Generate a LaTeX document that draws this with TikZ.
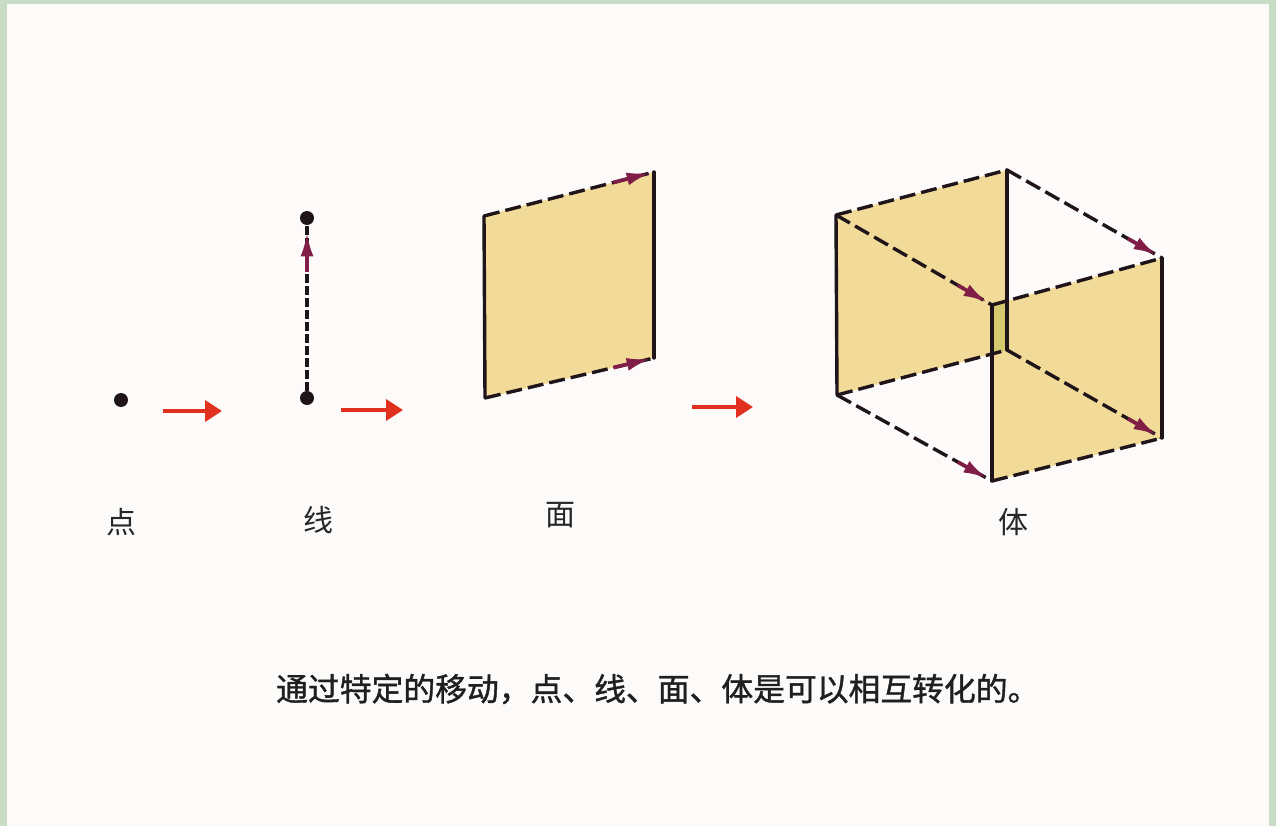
\documentclass[tikz,border=0pt]{standalone}
\usepackage{fontspec}
\newfontfamily\cjk{Noto Sans CJK SC}
\newfontfamily\cjkheavy[FakeBold=1.2]{Noto Sans CJK SC}
\usetikzlibrary{arrows.meta,calc}
\definecolor{pagebg}{RGB}{252,251,250}
\definecolor{frame}{RGB}{200,220,198}
\definecolor{facefill}{RGB}{242,218,152}
\definecolor{overlapfill}{RGB}{214,200,110}
\definecolor{movecol}{RGB}{128,30,72}
\definecolor{stepred}{RGB}{226,48,30}
\definecolor{edgecol}{RGB}{30,20,25}
\tikzset{
  pt/.style={circle,fill=edgecol,inner sep=0pt,minimum size=14pt},
  solidedge/.style={draw=edgecol,line width=3.4pt,line cap=round},
  dashedge/.style={draw=edgecol,line width=3.4pt,dash pattern=on 16pt off 6pt},
  fineedge/.style={draw=edgecol,line width=3.2pt,dash pattern=on 9pt off 3pt},
  movetip/.style={draw=movecol,line width=3.6pt,-{Latex[length=24pt,width=13pt]}},
  steparrow/.style={draw=stepred,line width=3.8pt,-{Triangle[length=17pt,width=21pt]}},
  lbl/.style={font=\cjk\fontsize{30pt}{32pt}\selectfont,text=black!85,inner sep=0pt},
  caption/.style={font=\cjkheavy\fontsize{31.8pt}{34pt}\selectfont,text=black!88,inner sep=0pt}
}
\begin{document}
\begin{tikzpicture}[x=1pt,y=-1pt]
  % page and frame
  \fill[frame] (0,0) rectangle (1276,826);
  \fill[pagebg] (7,4) rectangle (1269,826);
  \useasboundingbox (0,0) rectangle (1276,826);

  % point
  \node[pt] (p) at (121,400) {};
  \node[lbl] (lp) at (121,522) {点};

  % line
  \node[pt] (l1) at (307,398) {};
  \node[pt] (l2) at (307,218) {};
  \draw[fineedge] (l1) -- (l2);
  \draw[movetip] ($(l1)!0.7!(l2)$) -- ($(l1)!0.92!(l2)$);
  \node[lbl] (ll) at (318,520) {线};

  % plane
  \coordinate (s1) at (484,216);
  \coordinate (s2) at (654,172);
  \coordinate (s3) at (654,358);
  \coordinate (s4) at (485,398);
  \fill[facefill] (s1) -- (s2) -- (s3) -- (s4) -- cycle;
  \draw[solidedge] (s1) -- (s4);
  \draw[solidedge] (s2) -- (s3);
  \draw[dashedge] (s1) -- (s2);
  \draw[dashedge] (s4) -- (s3);
  \draw[movetip] ($(s1)!0.76!(s2)$) -- ($(s1)!0.98!(s2)$);
  \draw[movetip] ($(s4)!0.76!(s3)$) -- ($(s4)!0.98!(s3)$);
  \node[lbl] (lf) at (560,515) {面};

  % solid
  \coordinate (a) at (836,215);
  \coordinate (b) at (1007,170);
  \coordinate (b2) at (1007,350);
  \coordinate (a2) at (837,395);
  \coordinate (d) at (992,305);
  \coordinate (c) at (1162,258);
  \coordinate (c2) at (1162,438);
  \coordinate (d2) at (992,481);
  \fill[facefill] (a) -- (b) -- (b2) -- (a2) -- cycle;
  \fill[facefill] (d) -- (c) -- (c2) -- (d2) -- cycle;
  \fill[overlapfill] (992,303) -- (1007,299) -- (1007,350) -- (992,354) -- cycle;
  % moving faces
  \draw[solidedge] (a) -- (a2);
  \draw[solidedge] (b) -- (b2);
  \draw[dashedge] (a) -- (b);
  \draw[dashedge] (a2) -- (b2);
  \draw[solidedge] (d) -- (d2);
  \draw[solidedge] (c) -- (c2);
  \draw[dashedge] (d) -- (c);
  \draw[dashedge] (d2) -- (c2);
  % paths of motion
  \draw[dashedge] (a) -- (d);
  \draw[dashedge] (b) -- (c);
  \draw[dashedge] (a2) -- (d2);
  \draw[dashedge] (b2) -- (c2);
  \draw[movetip] ($(a)!0.78!(d)$) -- ($(a)!0.97!(d)$);
  \draw[movetip] ($(b)!0.78!(c)$) -- ($(b)!0.97!(c)$);
  \draw[movetip] ($(a2)!0.78!(d2)$) -- ($(a2)!0.97!(d2)$);
  \draw[movetip] ($(b2)!0.78!(c2)$) -- ($(b2)!0.97!(c2)$);
  \node[lbl] (lt) at (1013,522) {体};

  % steps between the stages
  \coordinate (r1a) at (163,411);
  \coordinate (r1b) at (222,411);
  \coordinate (r2a) at (341,410);
  \coordinate (r2b) at (403,410);
  \coordinate (r3a) at (692,407);
  \coordinate (r3b) at (753,407);
  \draw[steparrow] (r1a) -- (r1b);
  \draw[steparrow] (r2a) -- (r2b);
  \draw[steparrow] (r3a) -- (r3b);

  % caption
  \node[caption,anchor=west] (cap) at (276,689) {通过特定的移动，点、线、面、体是可以相互转化的。};
\end{tikzpicture}
\end{document}
